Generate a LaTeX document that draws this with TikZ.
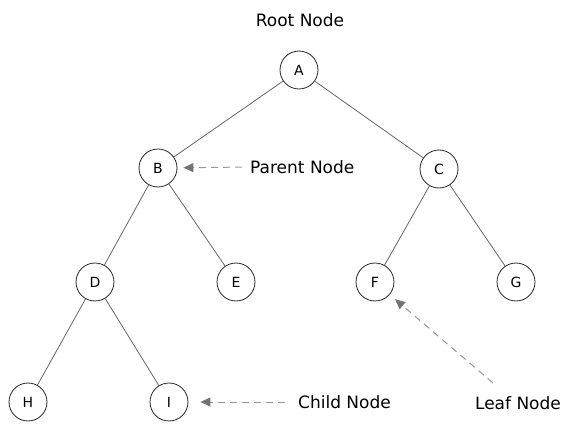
\documentclass[tikz,border=0pt]{standalone}
\usepackage{fontspec}
\setmainfont{DejaVu Sans}
\usetikzlibrary{arrows.meta}
\tikzset{
  treenode/.style = {circle,draw=black!85,line width=0.8pt,minimum size=38pt,inner sep=0pt,font=\fontsize{14}{16}\selectfont},
  branch/.style = {draw=black!60,line width=0.8pt},
  pointer/.style = {draw=black!40,line width=1pt,dash pattern=on 7pt off 5pt,-{Triangle[length=10pt,width=9pt,color=black!55,fill=black!55]}},
  caption/.style = {inner sep=0pt,font=\fontsize{17}{20}\selectfont}
}

\begin{document}
\begin{tikzpicture}[x=1pt,y=-1pt]
	\useasboundingbox (0,0) rectangle (574,431);

	\node[treenode] (A) at (299,70) {A}; %root
	\node[treenode] (B) at (158,168) {B};
	\node[treenode] (C) at (439,169) {C};
	\node[treenode] (D) at (95,282) {D};
	\node[treenode] (E) at (236,282) {E};
	\node[treenode] (F) at (375,282) {F};
	\node[treenode] (G) at (516,282) {G};
	\node[treenode] (H) at (28,402) {H};
	\node[treenode] (I) at (169,402) {I};

	\node[caption] (root) at (300,20) {Root Node};
	\node[caption,anchor=west] (parent) at (250,167) {Parent Node};
	\node[caption,anchor=west] (child) at (298,402) {Child Node};
	\node[caption] (leaf) at (518,403) {Leaf Node};
	\coordinate (leaftail) at (493,383); %start of the leaf pointer

	%branches of the tree
	\foreach \u/\v in {A/B,A/C,B/D,B/E,C/F,C/G,D/H,D/I}
		\draw[branch] (\u) -- (\v);

	%dashed pointers from the captions
	\draw[pointer,shorten <=8pt,shorten >=6pt] (parent.west) -- (B);
	\draw[pointer,shorten <=13pt,shorten >=12pt] (child.west) -- (I);
	\draw[pointer,shorten >=7pt] (leaftail) -- (F);
\end{tikzpicture}
\end{document}
